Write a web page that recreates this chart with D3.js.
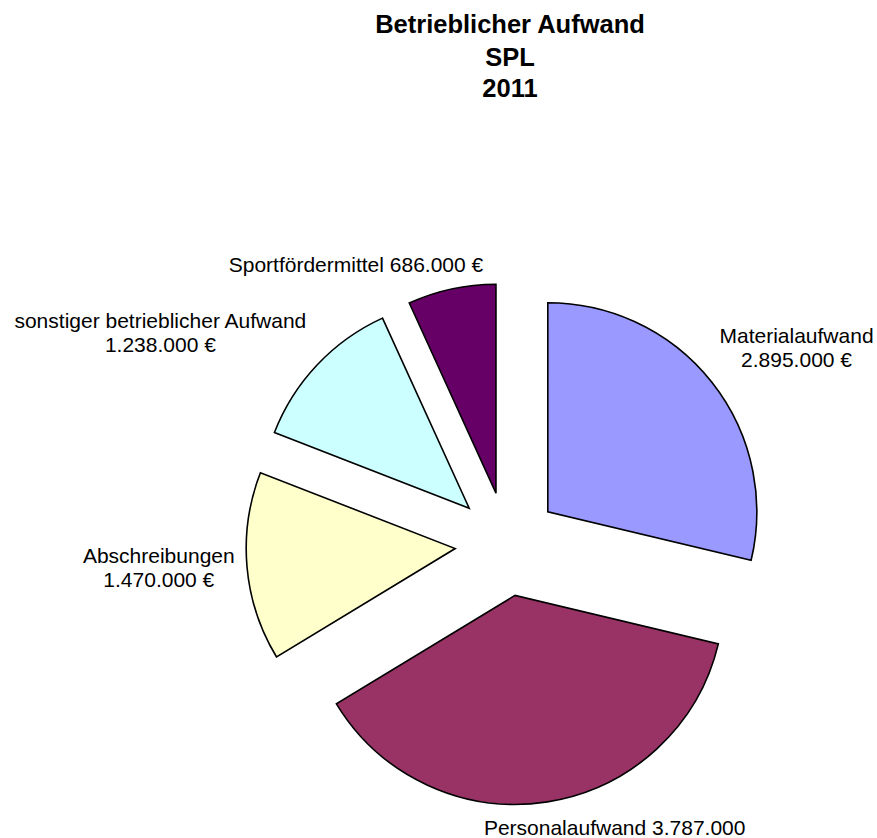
<!DOCTYPE html>
<html>
<head>
<meta charset="utf-8">
<script src="https://cdn.jsdelivr.net/npm/d3@7"></script>
<style>
  html, body { margin: 0; padding: 0; background: #fff; }
  svg { display: block; font-family: "Liberation Sans", Arial, sans-serif; }
</style>
</head>
<body>
<div id="chart"></div>
<script>
// Daten (in Euro)
const categories = ["Materialaufwand", "Personalaufwand", "Abschreibungen", "sonstiger betrieblicher Aufwand", "Sportfördermittel"];
const values = [2895000, 3787000, 1470000, 1238000, 686000];
const labelLines = [
  ["Materialaufwand", "2.895.000 €"],
  ["Personalaufwand 3.787.000"],
  ["Abschreibungen", "1.470.000 €"],
  ["sonstiger betrieblicher Aufwand", "1.238.000 €"],
  ["Sportfördermittel 686.000 €"]
];
const titleLines = ["Betrieblicher Aufwand", "SPL", "2011"];

// Layout
const width = 877, height = 838;
const cx = 507, cy = 544;
const radius = 209;
const explode = 52;
const colors = ["#9999FF", "#993366", "#FFFFCC", "#CCFFFF", "#660066"];
// Label: Abstand vom Mittelpunkt und Winkelversatz (Grad) zur Segmentmitte
const labelLayout = [
  { r: 350, da: 4.1 },
  { r: 303, da: -11.9 },
  { r: 349, da: 1.1 },
  { r: 406, da: -12.0 },
  { r: 318, da: -16.1 }
];

const data = categories.map((c, i) => ({ name: c, value: values[i], i }));

const svg = d3.select("#chart").append("svg")
  .attr("width", width)
  .attr("height", height);

// Titel
svg.append("g").selectAll("text")
  .data(titleLines)
  .join("text")
  .attr("x", 510)
  .attr("y", (d, i) => [33, 66, 97][i])
  .attr("text-anchor", "middle")
  .style("font-size", "25.5px")
  .style("font-weight", "bold")
  .text(d => d);

const pie = d3.pie().value(d => d.value).sort(null);
const arcs = pie(data);

const arc = d3.arc().innerRadius(0).outerRadius(radius);

const g = svg.append("g").attr("transform", `translate(${cx},${cy})`);

g.selectAll("path")
  .data(arcs)
  .join("path")
  .attr("transform", d => {
    const a = (d.startAngle + d.endAngle) / 2;
    return `translate(${explode * Math.sin(a)},${-explode * Math.cos(a)})`;
  })
  .attr("d", arc)
  .attr("fill", d => colors[d.data.i])
  .attr("stroke", "#000")
  .attr("stroke-width", 1.6)
  .attr("stroke-linejoin", "miter");

// Beschriftungen
const labels = g.selectAll("g.label")
  .data(arcs)
  .join("g")
  .attr("class", "label")
  .attr("transform", d => {
    const lay = labelLayout[d.data.i];
    const a = (d.startAngle + d.endAngle) / 2 + lay.da * Math.PI / 180;
    return `translate(${lay.r * Math.sin(a)},${-lay.r * Math.cos(a)})`;
  });

labels.selectAll("text")
  .data(d => labelLines[d.data.i].map((t, k, arr) => ({ t, k, n: arr.length })))
  .join("text")
  .attr("text-anchor", "middle")
  .attr("y", d => (d.k - (d.n - 1) / 2) * 24 + 7.5)
  .style("font-size", "21px")
  .style("fill", "#000")
  .text(d => d.t);
</script>
</body>
</html>
